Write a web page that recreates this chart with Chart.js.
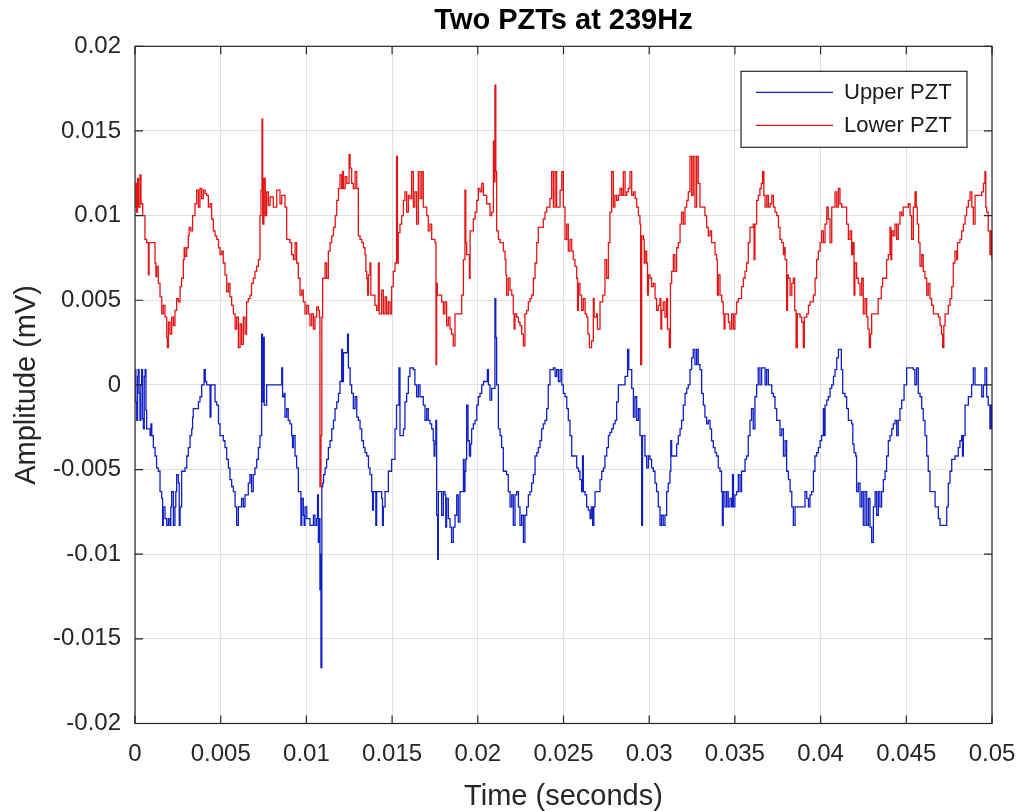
<!DOCTYPE html>
<html>
<head>
<meta charset="utf-8">
<title>Two PZTs at 239Hz</title>
<script src="https://cdn.jsdelivr.net/npm/chart.js@4.4.1/dist/chart.umd.min.js"></script>
<style>
body{margin:0;background:#fff}
#wrap{width:1022px;height:811px}
</style>
</head>
<body>
<div id="wrap"><canvas id="chart" width="1022" height="811"></canvas></div>
<script>

// tick values and labels as printed on the figure
let xTicks = [0,0.005,0.01,0.015,0.02,0.025,0.03,0.035,0.04,0.045,0.05]
let xTickLabels = ["0","0.005","0.01","0.015","0.02","0.025","0.03","0.035","0.04","0.045","0.05"]
let yTicks = [-0.02,-0.015,-0.01,-0.005,0,0.005,0.01,0.015,0.02]
let yTickLabels = ["-0.02","-0.015","-0.01","-0.005","0","0.005","0.01","0.015","0.02"]

let seriesNames = ["Upper PZT","Lower PZT"]

// [time (s), amplitude (mV)]
let upperPZT = [
[0.00000,0.0009],[0.00005,-0.0010],[0.00010,-0.0021],[0.00015,0.0005],[0.00019,0.0009],[0.00024,-0.0005],[0.00029,-0.0021],[0.00034,0.0000],[0.00039,0.0009],[0.00044,-0.0020],
[0.00049,-0.0026],[0.00054,0.0005],[0.00059,0.0009],[0.00064,-0.0015],[0.00068,-0.0026],[0.00078,-0.0026],[0.00088,-0.0030],[0.00093,-0.0023],[0.00098,-0.0030],[0.00107,-0.0037],
[0.00117,-0.0042],[0.00126,-0.0049],[0.00136,-0.0051],[0.00146,-0.0063],[0.00156,-0.0067],[0.00161,-0.0083],[0.00165,-0.0072],[0.00175,-0.0079],[0.00185,-0.0083],[0.00195,-0.0079],
[0.00204,-0.0083],[0.00209,-0.0072],[0.00214,-0.0063],[0.00224,-0.0083],[0.00233,-0.0072],[0.00238,-0.0063],[0.00243,-0.0053],[0.00253,-0.0058],[0.00258,-0.0083],[0.00263,-0.0072],
[0.00272,-0.0051],[0.00282,-0.0051],[0.00292,-0.0049],[0.00302,-0.0042],[0.00311,-0.0037],[0.00321,-0.0030],[0.00331,-0.0026],[0.00336,-0.0019],[0.00340,-0.0014],[0.00360,-0.0014],
[0.00370,-0.0010],[0.00379,-0.0007],[0.00389,0.0000],[0.00403,0.0009],[0.00410,0.0002],[0.00418,0.0000],[0.00428,0.0000],[0.00438,-0.0019],[0.00443,0.0000],[0.00457,0.0000],
[0.00467,-0.0010],[0.00477,-0.0012],[0.00487,-0.0023],[0.00496,-0.0030],[0.00506,-0.0030],[0.00515,-0.0033],[0.00525,-0.0037],[0.00535,-0.0044],[0.00545,-0.0049],[0.00554,-0.0056],
[0.00564,-0.0060],[0.00574,-0.0063],[0.00584,-0.0072],[0.00593,-0.0083],[0.00603,-0.0072],[0.00613,-0.0072],[0.00622,-0.0067],[0.00632,-0.0072],[0.00642,-0.0065],[0.00651,-0.0065],
[0.00661,-0.0058],[0.00671,-0.0053],[0.00680,-0.0063],[0.00690,-0.0053],[0.00700,-0.0049],[0.00710,-0.0044],[0.00720,-0.0037],[0.00729,-0.0030],[0.00739,0.0030],[0.00744,-0.0010],
[0.00749,0.0028],[0.00754,-0.0012],[0.00768,0.0000],[0.00788,0.0000],[0.00807,0.0000],[0.00846,0.0000],[0.00856,0.0010],[0.00861,-0.0007],[0.00870,-0.0005],[0.00875,-0.0019],
[0.00885,-0.0014],[0.00894,-0.0021],[0.00904,-0.0023],[0.00914,-0.0030],[0.00919,-0.0037],[0.00924,-0.0030],[0.00934,-0.0042],[0.00943,-0.0049],[0.00953,-0.0063],[0.00963,-0.0063],
[0.00968,-0.0083],[0.00973,-0.0067],[0.00982,-0.0077],[0.00987,-0.0083],[0.00992,-0.0072],[0.01002,-0.0079],[0.01012,-0.0079],[0.01021,-0.0083],[0.01031,-0.0083],[0.01041,-0.0077],
[0.01050,-0.0083],[0.01060,-0.0079],[0.01065,-0.0065],[0.01070,-0.0093],[0.01075,-0.0079],[0.01079,-0.0121],[0.01082,-0.0100],[0.01085,-0.0167],[0.01090,-0.0060],[0.01095,-0.0058],
[0.01100,-0.0053],[0.01109,-0.0049],[0.01118,-0.0044],[0.01128,-0.0037],[0.01138,-0.0033],[0.01148,-0.0026],[0.01158,-0.0021],[0.01167,-0.0014],[0.01177,-0.0010],[0.01187,-0.0005],
[0.01196,0.0002],[0.01206,0.0021],[0.01211,0.0002],[0.01216,0.0019],[0.01226,0.0019],[0.01240,0.0030],[0.01245,0.0010],[0.01255,0.0000],[0.01264,-0.0005],[0.01274,-0.0014],
[0.01284,-0.0007],[0.01294,-0.0019],[0.01303,-0.0021],[0.01313,-0.0026],[0.01323,-0.0033],[0.01333,-0.0037],[0.01342,-0.0040],[0.01352,-0.0042],[0.01362,-0.0049],[0.01371,-0.0053],
[0.01381,-0.0063],[0.01386,-0.0074],[0.01391,-0.0063],[0.01400,-0.0063],[0.01405,-0.0083],[0.01410,-0.0063],[0.01430,-0.0063],[0.01439,-0.0067],[0.01444,-0.0083],[0.01449,-0.0072],
[0.01459,-0.0063],[0.01468,-0.0063],[0.01478,-0.0051],[0.01488,-0.0051],[0.01497,-0.0044],[0.01507,-0.0044],[0.01517,-0.0026],[0.01526,-0.0012],[0.01540,0.0010],[0.01546,-0.0030],
[0.01556,-0.0030],[0.01566,-0.0026],[0.01575,-0.0010],[0.01585,-0.0005],[0.01595,0.0005],[0.01604,0.0010],[0.01624,0.0009],[0.01633,0.0000],[0.01643,-0.0007],[0.01653,0.0000],
[0.01663,-0.0007],[0.01673,-0.0007],[0.01682,-0.0012],[0.01692,-0.0021],[0.01702,-0.0014],[0.01711,-0.0021],[0.01721,-0.0023],[0.01731,-0.0026],[0.01740,-0.0033],[0.01745,-0.0042],
[0.01750,-0.0035],[0.01755,-0.0021],[0.01760,-0.0077],[0.01766,-0.0103],[0.01770,-0.0063],[0.01779,-0.0063],[0.01789,-0.0077],[0.01799,-0.0063],[0.01808,-0.0065],[0.01813,-0.0084],
[0.01818,-0.0067],[0.01828,-0.0079],[0.01838,-0.0084],[0.01847,-0.0093],[0.01857,-0.0084],[0.01867,-0.0077],[0.01877,-0.0065],[0.01886,-0.0081],[0.01896,-0.0063],[0.01906,-0.0063],
[0.01916,-0.0044],[0.01920,-0.0063],[0.01925,-0.0051],[0.01930,-0.0044],[0.01935,-0.0012],[0.01943,-0.0033],[0.01951,-0.0042],[0.01958,-0.0035],[0.01964,-0.0026],[0.01974,-0.0023],
[0.01984,-0.0021],[0.01994,-0.0012],[0.02003,-0.0007],[0.02013,-0.0005],[0.02023,0.0000],[0.02033,0.0002],[0.02042,0.0002],[0.02056,0.0009],[0.02062,0.0000],[0.02071,-0.0009],
[0.02081,-0.0002],[0.02091,-0.0002],[0.02100,0.0051],[0.02105,0.0028],[0.02110,0.0000],[0.02120,-0.0026],[0.02130,-0.0030],[0.02139,-0.0037],[0.02149,-0.0051],[0.02159,-0.0051],
[0.02168,-0.0053],[0.02178,-0.0063],[0.02188,-0.0072],[0.02198,-0.0065],[0.02207,-0.0083],[0.02217,-0.0065],[0.02227,-0.0063],[0.02237,-0.0072],[0.02246,-0.0083],[0.02256,-0.0077],
[0.02266,-0.0093],[0.02275,-0.0077],[0.02285,-0.0072],[0.02295,-0.0065],[0.02305,-0.0063],[0.02314,-0.0058],[0.02324,-0.0053],[0.02334,-0.0042],[0.02344,-0.0040],[0.02353,-0.0037],
[0.02363,-0.0033],[0.02372,-0.0026],[0.02382,-0.0023],[0.02392,-0.0021],[0.02402,-0.0014],[0.02411,0.0000],[0.02421,0.0009],[0.02441,0.0010],[0.02451,0.0005],[0.02460,0.0009],
[0.02470,0.0002],[0.02480,0.0009],[0.02490,0.0000],[0.02499,-0.0005],[0.02509,-0.0007],[0.02519,-0.0014],[0.02528,-0.0021],[0.02538,-0.0030],[0.02548,-0.0042],[0.02567,-0.0042],
[0.02577,-0.0049],[0.02587,-0.0051],[0.02596,-0.0056],[0.02606,-0.0063],[0.02611,-0.0042],[0.02616,-0.0063],[0.02626,-0.0065],[0.02635,-0.0072],[0.02645,-0.0074],[0.02655,-0.0079],
[0.02662,-0.0072],[0.02670,-0.0083],[0.02677,-0.0072],[0.02684,-0.0063],[0.02703,-0.0063],[0.02713,-0.0056],[0.02723,-0.0051],[0.02733,-0.0049],[0.02742,-0.0042],[0.02752,-0.0037],
[0.02762,-0.0030],[0.02771,-0.0028],[0.02781,-0.0026],[0.02791,-0.0023],[0.02801,-0.0021],[0.02810,-0.0010],[0.02820,0.0000],[0.02849,0.0000],[0.02859,0.0005],[0.02874,0.0021],
[0.02881,0.0009],[0.02888,0.0009],[0.02898,-0.0002],[0.02908,-0.0019],[0.02917,-0.0007],[0.02927,-0.0021],[0.02937,-0.0014],[0.02946,-0.0030],[0.02956,-0.0083],[0.02961,-0.0030],
[0.02966,-0.0030],[0.02975,-0.0042],[0.02985,-0.0049],[0.02995,-0.0042],[0.03005,-0.0044],[0.03014,-0.0049],[0.03024,-0.0051],[0.03034,-0.0058],[0.03043,-0.0063],[0.03053,-0.0072],
[0.03063,-0.0083],[0.03072,-0.0077],[0.03082,-0.0083],[0.03092,-0.0077],[0.03102,-0.0063],[0.03111,-0.0058],[0.03121,-0.0051],[0.03126,-0.0033],[0.03131,-0.0042],[0.03150,-0.0042],
[0.03160,-0.0035],[0.03170,-0.0030],[0.03180,-0.0026],[0.03189,-0.0021],[0.03199,-0.0012],[0.03209,-0.0005],[0.03219,-0.0002],[0.03228,0.0000],[0.03238,0.0009],[0.03248,0.0016],
[0.03257,0.0021],[0.03267,0.0012],[0.03277,0.0021],[0.03286,0.0012],[0.03296,0.0009],[0.03306,-0.0005],[0.03316,-0.0012],[0.03325,-0.0019],[0.03335,-0.0023],[0.03345,-0.0021],
[0.03355,-0.0026],[0.03364,-0.0033],[0.03374,-0.0037],[0.03384,-0.0040],[0.03393,-0.0042],[0.03403,-0.0049],[0.03413,-0.0051],[0.03422,-0.0063],[0.03427,-0.0083],[0.03432,-0.0063],
[0.03442,-0.0072],[0.03452,-0.0063],[0.03461,-0.0072],[0.03471,-0.0067],[0.03481,-0.0072],[0.03486,-0.0053],[0.03491,-0.0072],[0.03500,-0.0065],[0.03510,-0.0063],[0.03520,-0.0053],
[0.03530,-0.0063],[0.03539,-0.0051],[0.03549,-0.0051],[0.03559,-0.0044],[0.03568,-0.0042],[0.03578,-0.0030],[0.03588,-0.0021],[0.03597,-0.0014],[0.03607,-0.0026],[0.03617,-0.0007],
[0.03627,0.0000],[0.03636,0.0010],[0.03646,0.0000],[0.03656,0.0010],[0.03676,0.0000],[0.03685,0.0009],[0.03695,0.0000],[0.03705,0.0000],[0.03715,-0.0005],[0.03725,-0.0007],
[0.03734,-0.0014],[0.03744,-0.0021],[0.03763,-0.0030],[0.03773,-0.0026],[0.03783,-0.0042],[0.03793,-0.0033],[0.03802,-0.0051],[0.03812,-0.0056],[0.03822,-0.0063],[0.03832,-0.0072],
[0.03841,-0.0083],[0.03851,-0.0072],[0.03899,-0.0072],[0.03909,-0.0063],[0.03919,-0.0067],[0.03929,-0.0072],[0.03938,-0.0065],[0.03948,-0.0063],[0.03958,-0.0051],[0.03967,-0.0042],
[0.03977,-0.0040],[0.03987,-0.0037],[0.03997,-0.0033],[0.04006,-0.0030],[0.04016,-0.0014],[0.04021,-0.0030],[0.04026,-0.0012],[0.04036,-0.0009],[0.04045,-0.0007],[0.04055,-0.0002],
[0.04065,0.0000],[0.04075,0.0005],[0.04084,0.0009],[0.04094,0.0016],[0.04104,0.0021],[0.04113,0.0021],[0.04121,0.0009],[0.04129,-0.0005],[0.04142,-0.0007],[0.04152,-0.0014],
[0.04162,-0.0021],[0.04181,-0.0023],[0.04188,-0.0035],[0.04195,-0.0040],[0.04205,-0.0042],[0.04210,-0.0063],[0.04220,-0.0058],[0.04230,-0.0072],[0.04240,-0.0063],[0.04249,-0.0083],
[0.04259,-0.0063],[0.04269,-0.0083],[0.04279,-0.0067],[0.04288,-0.0084],[0.04298,-0.0093],[0.04308,-0.0072],[0.04318,-0.0063],[0.04327,-0.0077],[0.04337,-0.0063],[0.04346,-0.0072],
[0.04356,-0.0063],[0.04366,-0.0056],[0.04376,-0.0051],[0.04385,-0.0042],[0.04395,-0.0033],[0.04405,-0.0030],[0.04415,-0.0026],[0.04424,-0.0023],[0.04434,-0.0021],[0.04444,-0.0030],
[0.04453,-0.0021],[0.04463,-0.0014],[0.04473,-0.0009],[0.04487,0.0000],[0.04502,0.0010],[0.04531,0.0010],[0.04541,0.0009],[0.04550,0.0000],[0.04560,0.0010],[0.04570,-0.0005],
[0.04580,-0.0007],[0.04590,-0.0014],[0.04599,-0.0021],[0.04609,-0.0030],[0.04619,-0.0042],[0.04628,-0.0051],[0.04638,-0.0063],[0.04658,-0.0063],[0.04668,-0.0072],[0.04687,-0.0079],
[0.04697,-0.0083],[0.04726,-0.0083],[0.04736,-0.0072],[0.04745,-0.0058],[0.04755,-0.0051],[0.04765,-0.0044],[0.04784,-0.0042],[0.04803,-0.0037],[0.04813,-0.0033],[0.04823,-0.0030],
[0.04828,-0.0042],[0.04833,-0.0030],[0.04843,-0.0012],[0.04862,-0.0007],[0.04881,0.0000],[0.04891,0.0010],[0.04901,0.0000],[0.04930,0.0000],[0.04940,-0.0007],[0.04950,0.0000],
[0.04959,0.0010],[0.04969,-0.0007],[0.04978,-0.0012],[0.04988,-0.0026],[0.04993,-0.0012],[0.05000,-0.0026]
]

let lowerPZT = [
[0.00000,0.0105],[0.00005,0.0119],[0.00010,0.0102],[0.00015,0.0122],[0.00020,0.0105],[0.00029,0.0124],[0.00035,0.0107],[0.00045,0.0100],[0.00058,0.0086],[0.00068,0.0084],
[0.00078,0.0065],[0.00082,0.0084],[0.00107,0.0084],[0.00117,0.0072],[0.00122,0.0064],[0.00127,0.0070],[0.00136,0.0060],[0.00146,0.0052],[0.00156,0.0042],[0.00165,0.0047],
[0.00175,0.0040],[0.00185,0.0028],[0.00189,0.0022],[0.00195,0.0037],[0.00204,0.0030],[0.00214,0.0040],[0.00224,0.0035],[0.00233,0.0044],[0.00243,0.0051],[0.00253,0.0049],
[0.00263,0.0058],[0.00272,0.0063],[0.00282,0.0074],[0.00287,0.0081],[0.00292,0.0076],[0.00302,0.0081],[0.00311,0.0088],[0.00316,0.0093],[0.00326,0.0091],[0.00336,0.0100],
[0.00350,0.0107],[0.00360,0.0115],[0.00370,0.0105],[0.00379,0.0116],[0.00389,0.0110],[0.00399,0.0115],[0.00409,0.0113],[0.00418,0.0112],[0.00428,0.0105],[0.00438,0.0107],
[0.00447,0.0098],[0.00457,0.0091],[0.00467,0.0088],[0.00477,0.0086],[0.00487,0.0081],[0.00496,0.0077],[0.00506,0.0079],[0.00515,0.0072],[0.00525,0.0065],[0.00535,0.0055],
[0.00545,0.0060],[0.00554,0.0052],[0.00564,0.0047],[0.00574,0.0042],[0.00584,0.0033],[0.00593,0.0040],[0.00603,0.0022],[0.00613,0.0036],[0.00622,0.0024],[0.00632,0.0040],
[0.00642,0.0030],[0.00651,0.0049],[0.00661,0.0051],[0.00671,0.0053],[0.00680,0.0060],[0.00690,0.0063],[0.00700,0.0067],[0.00710,0.0070],[0.00720,0.0074],[0.00729,0.0100],
[0.00735,0.0115],[0.00741,0.0157],[0.00745,0.0095],[0.00752,0.0122],[0.00760,0.0100],[0.00768,0.0114],[0.00778,0.0106],[0.00788,0.0111],[0.00807,0.0105],[0.00827,0.0115],
[0.00846,0.0107],[0.00856,0.0112],[0.00875,0.0105],[0.00885,0.0086],[0.00904,0.0084],[0.00914,0.0077],[0.00924,0.0074],[0.00934,0.0084],[0.00943,0.0072],[0.00953,0.0063],
[0.00963,0.0053],[0.00973,0.0056],[0.00982,0.0049],[0.00992,0.0042],[0.01002,0.0047],[0.01012,0.0042],[0.01021,0.0035],[0.01031,0.0042],[0.01041,0.0033],[0.01050,0.0040],
[0.01060,0.0046],[0.01070,0.0044],[0.01076,0.0040],[0.01079,-0.0060],[0.01085,-0.0030],[0.01090,0.0040],[0.01095,0.0063],[0.01109,0.0072],[0.01118,0.0063],[0.01128,0.0079],
[0.01138,0.0084],[0.01148,0.0088],[0.01158,0.0093],[0.01168,0.0100],[0.01177,0.0109],[0.01187,0.0116],[0.01196,0.0124],[0.01206,0.0116],[0.01211,0.0126],[0.01216,0.0116],
[0.01226,0.0123],[0.01236,0.0119],[0.01249,0.0136],[0.01255,0.0128],[0.01264,0.0119],[0.01274,0.0116],[0.01284,0.0126],[0.01294,0.0116],[0.01303,0.0088],[0.01313,0.0086],
[0.01323,0.0084],[0.01333,0.0081],[0.01342,0.0077],[0.01347,0.0067],[0.01352,0.0063],[0.01357,0.0053],[0.01362,0.0065],[0.01371,0.0072],[0.01376,0.0053],[0.01391,0.0053],
[0.01400,0.0047],[0.01410,0.0044],[0.01420,0.0072],[0.01425,0.0042],[0.01439,0.0056],[0.01449,0.0042],[0.01459,0.0052],[0.01468,0.0042],[0.01478,0.0049],[0.01488,0.0042],
[0.01497,0.0058],[0.01507,0.0067],[0.01517,0.0072],[0.01526,0.0135],[0.01531,0.0072],[0.01536,0.0090],[0.01546,0.0095],[0.01556,0.0100],[0.01566,0.0109],[0.01575,0.0114],
[0.01585,0.0102],[0.01595,0.0112],[0.01604,0.0110],[0.01614,0.0126],[0.01624,0.0105],[0.01633,0.0114],[0.01643,0.0095],[0.01653,0.0126],[0.01663,0.0110],[0.01673,0.0126],
[0.01682,0.0105],[0.01702,0.0100],[0.01711,0.0091],[0.01721,0.0095],[0.01731,0.0086],[0.01750,0.0084],[0.01756,0.0012],[0.01760,0.0060],[0.01764,0.0053],[0.01779,0.0053],
[0.01789,0.0049],[0.01799,0.0042],[0.01808,0.0049],[0.01818,0.0035],[0.01828,0.0040],[0.01838,0.0033],[0.01847,0.0030],[0.01857,0.0023],[0.01867,0.0042],[0.01896,0.0042],
[0.01906,0.0053],[0.01916,0.0074],[0.01925,0.0115],[0.01930,0.0084],[0.01935,0.0077],[0.01951,0.0063],[0.01955,0.0091],[0.01974,0.0098],[0.01984,0.0102],[0.01994,0.0109],
[0.02003,0.0116],[0.02013,0.0114],[0.02023,0.0119],[0.02033,0.0112],[0.02052,0.0107],[0.02071,0.0100],[0.02081,0.0102],[0.02091,0.0144],[0.02096,0.0120],[0.02100,0.0177],
[0.02105,0.0126],[0.02110,0.0091],[0.02120,0.0086],[0.02130,0.0084],[0.02149,0.0079],[0.02159,0.0074],[0.02164,0.0065],[0.02168,0.0053],[0.02178,0.0063],[0.02188,0.0056],
[0.02198,0.0053],[0.02207,0.0042],[0.02212,0.0033],[0.02217,0.0042],[0.02227,0.0040],[0.02237,0.0037],[0.02246,0.0035],[0.02256,0.0030],[0.02266,0.0023],[0.02275,0.0042],
[0.02285,0.0044],[0.02295,0.0049],[0.02305,0.0051],[0.02314,0.0053],[0.02324,0.0063],[0.02334,0.0072],[0.02344,0.0084],[0.02353,0.0093],[0.02372,0.0093],[0.02382,0.0098],
[0.02392,0.0102],[0.02402,0.0105],[0.02421,0.0110],[0.02431,0.0126],[0.02441,0.0105],[0.02451,0.0126],[0.02460,0.0105],[0.02470,0.0105],[0.02480,0.0115],[0.02490,0.0126],
[0.02499,0.0105],[0.02509,0.0086],[0.02519,0.0095],[0.02528,0.0079],[0.02538,0.0086],[0.02548,0.0079],[0.02557,0.0074],[0.02567,0.0070],[0.02577,0.0063],[0.02582,0.0044],
[0.02587,0.0060],[0.02596,0.0053],[0.02606,0.0044],[0.02616,0.0051],[0.02626,0.0042],[0.02635,0.0040],[0.02642,0.0030],[0.02651,0.0022],[0.02664,0.0026],[0.02674,0.0051],
[0.02679,0.0040],[0.02693,0.0042],[0.02698,0.0033],[0.02713,0.0049],[0.02729,0.0053],[0.02742,0.0074],[0.02752,0.0063],[0.02762,0.0084],[0.02771,0.0102],[0.02781,0.0126],
[0.02791,0.0105],[0.02800,0.0112],[0.02810,0.0109],[0.02820,0.0112],[0.02830,0.0116],[0.02840,0.0112],[0.02849,0.0126],[0.02859,0.0112],[0.02869,0.0114],[0.02878,0.0116],
[0.02888,0.0126],[0.02898,0.0112],[0.02908,0.0114],[0.02918,0.0110],[0.02927,0.0105],[0.02937,0.0100],[0.02946,0.0095],[0.02950,0.0012],[0.02956,0.0088],[0.02966,0.0086],
[0.02971,0.0072],[0.02976,0.0079],[0.02985,0.0072],[0.02990,0.0053],[0.02995,0.0065],[0.03005,0.0063],[0.03014,0.0058],[0.03024,0.0060],[0.03034,0.0051],[0.03043,0.0044],
[0.03053,0.0047],[0.03063,0.0051],[0.03068,0.0033],[0.03073,0.0044],[0.03082,0.0049],[0.03092,0.0040],[0.03102,0.0051],[0.03107,0.0033],[0.03117,0.0022],[0.03124,0.0060],
[0.03131,0.0067],[0.03141,0.0077],[0.03150,0.0067],[0.03160,0.0081],[0.03170,0.0084],[0.03180,0.0095],[0.03189,0.0102],[0.03199,0.0095],[0.03209,0.0105],[0.03219,0.0109],
[0.03228,0.0114],[0.03238,0.0135],[0.03248,0.0112],[0.03257,0.0135],[0.03267,0.0105],[0.03277,0.0135],[0.03286,0.0119],[0.03296,0.0105],[0.03316,0.0105],[0.03325,0.0100],
[0.03335,0.0093],[0.03345,0.0088],[0.03355,0.0091],[0.03364,0.0084],[0.03374,0.0084],[0.03384,0.0077],[0.03393,0.0074],[0.03398,0.0053],[0.03403,0.0065],[0.03413,0.0053],
[0.03423,0.0049],[0.03432,0.0042],[0.03437,0.0033],[0.03442,0.0042],[0.03462,0.0037],[0.03471,0.0033],[0.03481,0.0042],[0.03491,0.0033],[0.03500,0.0042],[0.03510,0.0049],
[0.03520,0.0051],[0.03539,0.0058],[0.03549,0.0063],[0.03559,0.0067],[0.03568,0.0072],[0.03578,0.0084],[0.03588,0.0093],[0.03607,0.0095],[0.03612,0.0074],[0.03617,0.0095],
[0.03627,0.0109],[0.03637,0.0112],[0.03646,0.0116],[0.03654,0.0119],[0.03662,0.0126],[0.03669,0.0112],[0.03676,0.0105],[0.03686,0.0112],[0.03695,0.0105],[0.03705,0.0107],
[0.03715,0.0112],[0.03725,0.0105],[0.03734,0.0102],[0.03744,0.0100],[0.03754,0.0093],[0.03763,0.0086],[0.03773,0.0084],[0.03783,0.0077],[0.03788,0.0081],[0.03793,0.0074],
[0.03802,0.0044],[0.03807,0.0065],[0.03812,0.0063],[0.03822,0.0053],[0.03832,0.0060],[0.03841,0.0063],[0.03849,0.0044],[0.03857,0.0022],[0.03864,0.0042],[0.03880,0.0040],
[0.03890,0.0037],[0.03899,0.0022],[0.03905,0.0040],[0.03919,0.0042],[0.03929,0.0047],[0.03938,0.0049],[0.03958,0.0053],[0.03968,0.0063],[0.03977,0.0074],[0.03987,0.0079],
[0.03997,0.0084],[0.04006,0.0091],[0.04016,0.0084],[0.04026,0.0095],[0.04036,0.0105],[0.04045,0.0098],[0.04055,0.0084],[0.04065,0.0105],[0.04084,0.0114],[0.04094,0.0105],
[0.04104,0.0116],[0.04113,0.0107],[0.04123,0.0105],[0.04142,0.0105],[0.04152,0.0095],[0.04162,0.0086],[0.04172,0.0091],[0.04181,0.0077],[0.04188,0.0084],[0.04195,0.0053],
[0.04200,0.0072],[0.04210,0.0063],[0.04220,0.0060],[0.04230,0.0053],[0.04240,0.0063],[0.04249,0.0042],[0.04259,0.0051],[0.04269,0.0040],[0.04276,0.0033],[0.04284,0.0022],
[0.04291,0.0030],[0.04298,0.0042],[0.04327,0.0042],[0.04336,0.0051],[0.04354,0.0058],[0.04362,0.0063],[0.04385,0.0074],[0.04395,0.0077],[0.04405,0.0093],[0.04410,0.0074],
[0.04415,0.0091],[0.04424,0.0088],[0.04434,0.0095],[0.04444,0.0086],[0.04453,0.0095],[0.04463,0.0102],[0.04473,0.0100],[0.04482,0.0105],[0.04512,0.0107],[0.04522,0.0100],
[0.04531,0.0086],[0.04541,0.0105],[0.04551,0.0114],[0.04558,0.0105],[0.04564,0.0095],[0.04572,0.0084],[0.04580,0.0070],[0.04590,0.0077],[0.04599,0.0067],[0.04609,0.0063],
[0.04619,0.0053],[0.04628,0.0060],[0.04638,0.0051],[0.04648,0.0047],[0.04658,0.0042],[0.04687,0.0040],[0.04697,0.0035],[0.04705,0.0030],[0.04712,0.0022],[0.04719,0.0035],
[0.04726,0.0042],[0.04745,0.0047],[0.04755,0.0051],[0.04765,0.0058],[0.04774,0.0072],[0.04784,0.0079],[0.04794,0.0074],[0.04799,0.0084],[0.04813,0.0086],[0.04823,0.0091],
[0.04833,0.0095],[0.04843,0.0100],[0.04852,0.0105],[0.04862,0.0109],[0.04872,0.0114],[0.04882,0.0105],[0.04891,0.0095],[0.04901,0.0112],[0.04940,0.0114],[0.04950,0.0119],
[0.04959,0.0126],[0.04964,0.0105],[0.04969,0.0102],[0.04978,0.0091],[0.04988,0.0077],[0.04993,0.0091],[0.05000,0.0074]
]

let axisColor = "#262626"
let fontName = "'Liberation Sans', Arial, Helvetica, sans-serif"

function toPoints(pairs){
return pairs.map(p => ({x:p[0], y:p[1]}))
}

// MATLAB style box with inward ticks, plus the framed legend
let matlabFrame = {
id:"matlabFrame",
afterDatasetsDraw(chart){
let ctx = chart.ctx
let a = chart.chartArea
let xs = chart.scales.x
let ys = chart.scales.y
let tick = 8
ctx.save()
ctx.strokeStyle = axisColor
ctx.lineWidth = 1.2
ctx.strokeRect(a.left, a.top, a.right - a.left, a.bottom - a.top)
ctx.beginPath()
xs.ticks.forEach((t,i) => {
let px = xs.getPixelForTick(i)
ctx.moveTo(px, a.bottom); ctx.lineTo(px, a.bottom - tick)
ctx.moveTo(px, a.top); ctx.lineTo(px, a.top + tick)
})
ys.ticks.forEach((t,i) => {
let py = ys.getPixelForTick(i)
ctx.moveTo(a.left, py); ctx.lineTo(a.left + tick, py)
ctx.moveTo(a.right, py); ctx.lineTo(a.right - tick, py)
})
ctx.stroke()

// legend
let boxR = a.right - 25
let boxL = boxR - 226
let boxT = a.top + 25
let boxB = boxT + 76
ctx.fillStyle = "#ffffff"
ctx.fillRect(boxL, boxT, boxR - boxL, boxB - boxT)
ctx.lineWidth = 1.2
ctx.strokeStyle = axisColor
ctx.strokeRect(boxL, boxT, boxR - boxL, boxB - boxT)
let ds = chart.data.datasets
let rows = [boxT + 21, boxT + 54]
ds.forEach((d,i) => {
ctx.strokeStyle = d.borderColor
ctx.lineWidth = 1.3
ctx.beginPath()
ctx.moveTo(boxL + 15, rows[i]); ctx.lineTo(boxL + 92, rows[i])
ctx.stroke()
ctx.fillStyle = "#1a1a1a"
ctx.font = "22px " + fontName
ctx.textBaseline = "middle"
ctx.textAlign = "left"
ctx.fillText(d.label, boxL + 103, rows[i] + 1)
})
ctx.restore()
}
}

let ctx = document.getElementById("chart").getContext("2d")

let chartInstance = new Chart(ctx,{
type:"line",
data:{
datasets:[
{
label:seriesNames[0],
data:toPoints(upperPZT),
borderColor:"#1020c8",
borderWidth:1.3,
pointRadius:0,
stepped:true,
fill:false,
order:1
},
{
label:seriesNames[1],
data:toPoints(lowerPZT),
borderColor:"#e41414",
borderWidth:1.3,
pointRadius:0,
stepped:true,
fill:false,
order:0
}
]
},
options:{
responsive:false,
animation:false,
layout:{padding:{left:0,right:30,top:0,bottom:0}},
plugins:{
legend:{display:false},
tooltip:{enabled:false},
title:{
display:true,
fullSize:false,
text:"Two PZTs at 239Hz",
color:"#000000",
font:{family:fontName,size:29,weight:"bold",lineHeight:1.2},
padding:{top:4,bottom:7.5}
}
},
scales:{
x:{
type:"linear",
min:0,
max:0.05,
afterBuildTicks(scale){ scale.ticks = xTicks.map(v => ({value:v})) },
afterFit(scale){
scale.height = 87.5
scale.paddingLeft = 0
scale.paddingRight = 0
},
ticks:{
color:axisColor,
font:{family:fontName,size:24,lineHeight:1.2},
padding:16,
maxRotation:0,
autoSkip:false,
callback:(v,i) => xTickLabels[i]
},
grid:{color:"#e1e1e1",drawTicks:false},
border:{display:false},
title:{
display:true,
text:"Time (seconds)",
color:axisColor,
font:{family:fontName,size:29,lineHeight:1},
padding:{top:0,bottom:0}
}
},
y:{
type:"linear",
min:-0.02,
max:0.02,
afterBuildTicks(scale){ scale.ticks = yTicks.map(v => ({value:v})) },
afterFit(scale){
scale.width = 135
scale.paddingTop = 0
scale.paddingBottom = 0
},
ticks:{
color:axisColor,
font:{family:fontName,size:24,lineHeight:1.2},
padding:14,
autoSkip:false,
callback:(v,i) => yTickLabels[i]
},
grid:{color:"#e1e1e1",drawTicks:false},
border:{display:false},
title:{
display:true,
text:"Amplitude (mV)",
color:axisColor,
font:{family:fontName,size:29,lineHeight:1},
padding:{top:12,bottom:0}
}
}
}
},
plugins:[matlabFrame]
})

</script>
</body>
</html>
